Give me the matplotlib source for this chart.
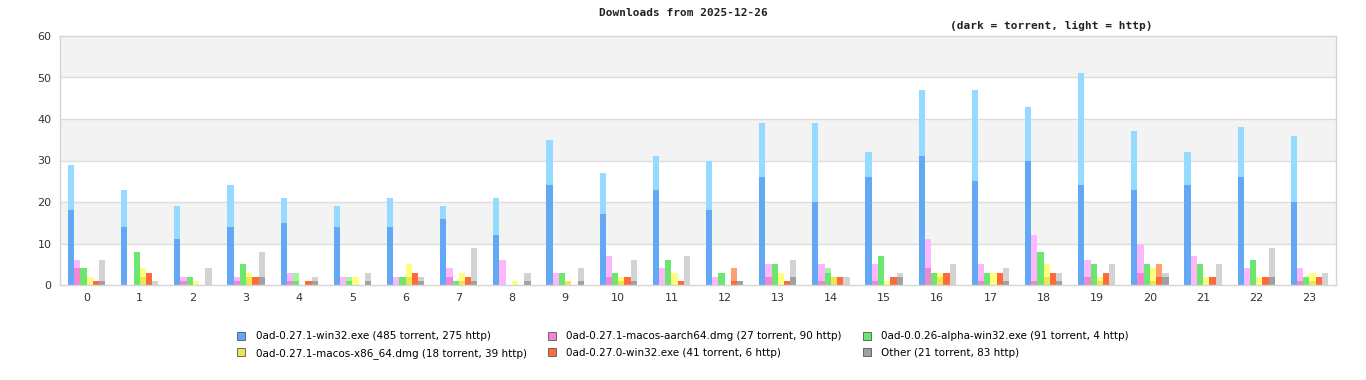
import numpy as np
import matplotlib
matplotlib.use('Agg')
import matplotlib.pyplot as plt
from matplotlib.patches import Patch

hours = list(range(24))

# torrent / total (torrent + http) per hour for each file
win32_torrent = [18, 14, 11, 14, 15, 14, 14, 16, 12, 24, 17, 23, 18, 26, 20, 26, 31, 25, 30, 24, 23, 24, 26, 20]
win32_total = [29, 23, 19, 24, 21, 19, 21, 19, 21, 35, 27, 31, 30, 39, 39, 32, 47, 47, 43, 51, 37, 32, 38, 36]
aarch64_torrent = [4, 0, 1, 1, 1, 0, 0, 2, 0, 0, 2, 0, 0, 2, 1, 1, 4, 1, 1, 2, 3, 0, 0, 1]
aarch64_total = [6, 0, 2, 2, 3, 2, 2, 4, 6, 3, 7, 4, 2, 5, 5, 5, 11, 5, 12, 6, 10, 7, 4, 4]
alpha_torrent = [4, 8, 2, 5, 1, 1, 2, 1, 0, 3, 3, 6, 3, 5, 3, 7, 3, 3, 8, 5, 5, 5, 6, 2]
alpha_total = [4, 8, 2, 5, 3, 2, 2, 1, 0, 3, 3, 6, 3, 5, 4, 7, 3, 3, 8, 5, 5, 5, 6, 2]
x86_torrent = [0, 2, 0, 2, 0, 0, 2, 1, 0, 1, 1, 0, 0, 0, 2, 0, 2, 0, 2, 1, 1, 0, 0, 1]
x86_total = [2, 4, 1, 3, 0, 2, 5, 3, 1, 1, 2, 3, 0, 3, 2, 1, 3, 3, 5, 2, 4, 2, 2, 3]
win32_270_torrent = [1, 3, 0, 2, 1, 0, 3, 2, 0, 0, 2, 1, 1, 1, 2, 2, 3, 3, 3, 3, 2, 2, 2, 2]
win32_270_total = [1, 3, 0, 2, 1, 0, 3, 2, 0, 0, 2, 1, 4, 1, 2, 2, 3, 3, 3, 3, 5, 2, 2, 2]
other_torrent = [1, 0, 0, 2, 1, 1, 1, 1, 1, 1, 1, 0, 1, 2, 0, 2, 0, 1, 1, 0, 2, 0, 2, 0]
other_total = [6, 1, 4, 8, 2, 3, 2, 9, 3, 4, 6, 7, 1, 6, 2, 3, 5, 4, 3, 5, 3, 5, 9, 3]

labels = ['0ad-0.27.1-win32.exe (485 torrent, 275 http)',
          '0ad-0.27.1-macos-aarch64.dmg (27 torrent, 90 http)',
          '0ad-0.0.26-alpha-win32.exe (91 torrent, 4 http)',
          '0ad-0.27.1-macos-x86_64.dmg (18 torrent, 39 http)',
          '0ad-0.27.0-win32.exe (41 torrent, 6 http)',
          'Other (21 torrent, 83 http)']

series = [(win32_torrent, win32_total), (aarch64_torrent, aarch64_total),
          (alpha_torrent, alpha_total), (x86_torrent, x86_total),
          (win32_270_torrent, win32_270_total), (other_torrent, other_total)]
dark = ['#62a8f4', '#f286d3', '#6be66e', '#e9e853', '#ff6a3c', '#a0a0a0']
light = ['#94dbff', '#fdb8fd', '#a0f5a0', '#fdfd7e', '#ff9e6e', '#d3d3d3']

fig = plt.figure(figsize=(13.66, 3.8), dpi=100)
ax = fig.add_axes([60/1366, 1 - 285/380, 1276/1366, 249/380])

# alternating background bands
for lo in range(0, 60, 10):
    ax.axhspan(lo, lo + 10, color='#f3f3f3' if (lo // 10) % 2 else 'white', zorder=0, lw=0)
for y in range(10, 60, 10):
    ax.axhline(y, color='#dddddd', lw=1, zorder=1)

x = np.arange(len(hours))
w = 0.117
for i, (tor, tot) in enumerate(series):
    tor = np.array(tor)
    http = np.array(tot) - tor
    pos = x + (i - 2.5) * w
    ax.bar(pos, tor, w, color=dark[i], zorder=2, lw=0)
    ax.bar(pos, http, w, bottom=tor, color=light[i], zorder=2, lw=0)

ax.set_xlim(-0.5, 23.5)
ax.set_ylim(0, 60)
ax.set_xticks(x)
ax.set_xticklabels([str(h) for h in hours])
ax.set_yticks(range(0, 61, 10))
ax.tick_params(length=0, labelsize=8, colors='#333333', pad=6)
for s in ax.spines.values():
    s.set_color('#d5d5d5')
    s.set_linewidth(1)

fig.text(683/1366, 1 - 13/380, 'Downloads from 2025-12-26', ha='center', va='center',
         family='DejaVu Sans Mono', fontsize=8, fontweight='bold', color='#222222')
fig.text(1152/1366, 1 - 26/380, '(dark = torrent, light = http)', ha='right', va='center',
         family='DejaVu Sans Mono', fontsize=8, fontweight='bold', color='#222222')

handles = [Patch(facecolor=dark[i], edgecolor='#555555', lw=0.6) for i in range(6)]
order = [0, 3, 1, 4, 2, 5]
fig.legend([handles[i] for i in order], [labels[i] for i in order], ncol=3,
           loc='center', bbox_to_anchor=(683/1366, 1 - 345/380), frameon=False,
           fontsize=7.5, handlelength=0.8, handleheight=0.8, handletextpad=1.0,
           columnspacing=2.0, labelspacing=0.6)

fig.savefig('out.png', dpi=100)
